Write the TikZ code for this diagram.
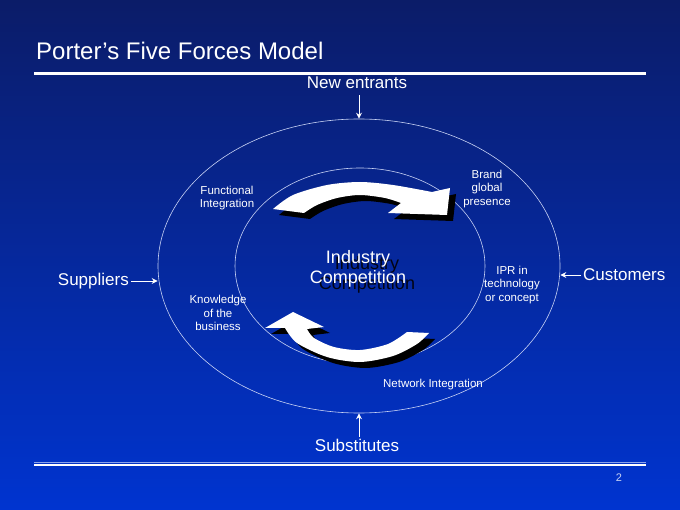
\documentclass[tikz,border=0pt]{standalone}
\usepackage{fontspec}
\setmainfont{Liberation Sans}
\usetikzlibrary{shapes.geometric}
\usetikzlibrary{positioning}
\usetikzlibrary{arrows.meta}

\definecolor{slidetop}{HTML}{0B1C68}
\definecolor{slidebot}{HTML}{0034D0}
\definecolor{ringline}{HTML}{C8D2F4}
\definecolor{shadowtext}{HTML}{020414}

\tikzset{
  force/.style={draw=white, line width=0.9pt, -{Stealth[length=6pt,width=6pt]}},
  ring/.style={ellipse, draw=ringline, line width=0.6pt, inner sep=0pt},
  forcelabel/.style={text=white, inner sep=2pt, font=\fontsize{17}{20}\selectfont},
  driver/.style={text=white, align=center, font=\fontsize{11.5}{13.5}\selectfont},
}

\begin{document}
\begin{tikzpicture}[x=1pt, y=-1pt]
        \useasboundingbox (0,0) rectangle (680,510);
        \shade[top color=slidetop, bottom color=slidebot] (0,0) rectangle (680,510);

        % title and rules
        \node[anchor=base west, text=white, inner sep=0pt, font=\fontsize{24}{28}\selectfont] (title) at (36,60) {Porter’s Five Forces Model};
        \draw[white, line width=2.2pt] (34,73.5) -- (646,73.5);
        \draw[ringline!70!slidebot, line width=1pt] (34,462) -- (646,462);
        \draw[white, line width=2.5pt] (34,464.8) -- (646,464.8);
        \node[text=ringline, font=\fontsize{11}{13}\selectfont] (pagenum) at (619,478) {2};

        % rings
        \node[ring, minimum width=402pt, minimum height=294pt] (outer) at (359,266) {};
        \node[ring, minimum width=250pt, minimum height=196pt] (inner) at (360,266) {};

        % curved arrows, shadow first
        \foreach \dx/\col in {6/black, 0/white} {
            \fill[\col, shift={(\dx,\dx)}] plot[smooth] coordinates {(273,209) (293,195) (327,185) (360,182) (393,185) (432,192)}
                -- (450,188) -- (447,215) -- (388,213) -- (401,203)
                -- plot[smooth] coordinates {(401,203) (385,198) (360,195) (337,198) (317,205) (304,213)} -- cycle;
            \fill[\col, shift={(\dx,\dx)}] plot[smooth] coordinates {(285,328) (297,343) (327,357) (360,362) (393,356) (417,344) (429,333)}
                -- (407,332)
                -- plot[smooth] coordinates {(407,332) (388,344) (360,350) (334,347) (314,338) (307,329)}
                -- (324,327) -- (293,312) -- (265,328) -- cycle;
        }

        % centre
        \node[text=shadowtext, align=center, font=\fontsize{18}{20}\selectfont] (hubshadow) at (367,275) {Industry\\Competition};
        \node[text=white, align=center, font=\fontsize{18}{20}\selectfont] (hub) at (358,269) {Industry\\Competition};

        % drivers
        \node[driver] (functional) at (227,198) {Functional\\Integration};
        \node[driver] (brand) at (487,189) {Brand\\global\\presence};
        \node[driver] (ipr) at (512,285) {IPR in\\technology\\or concept};
        \node[driver] (knowledge) at (218,313) {Knowledge\\of the\\business};
        \node[driver] (network) at (433,385) {Network Integration};

        % five forces
        \node[forcelabel] (entrants) at (357,83) {New entrants};
        \node[forcelabel] (substitutes) at (357,445) {Substitutes};
        \node[forcelabel, anchor=east] (suppliers) at (131,281) {Suppliers};
        \node[forcelabel, anchor=west] (customers) at (581,275) {Customers};

        \draw[force, shorten <=4pt] (entrants.south -| outer.north) -- (outer.north);
        \draw[force] (substitutes.north -| outer.south) -- (outer.south);
        \draw[force] (suppliers.east) -- (suppliers.east -| outer.west);
        \draw[force] (customers.west) -- (customers.west -| outer.east);
\end{tikzpicture}
\end{document}
